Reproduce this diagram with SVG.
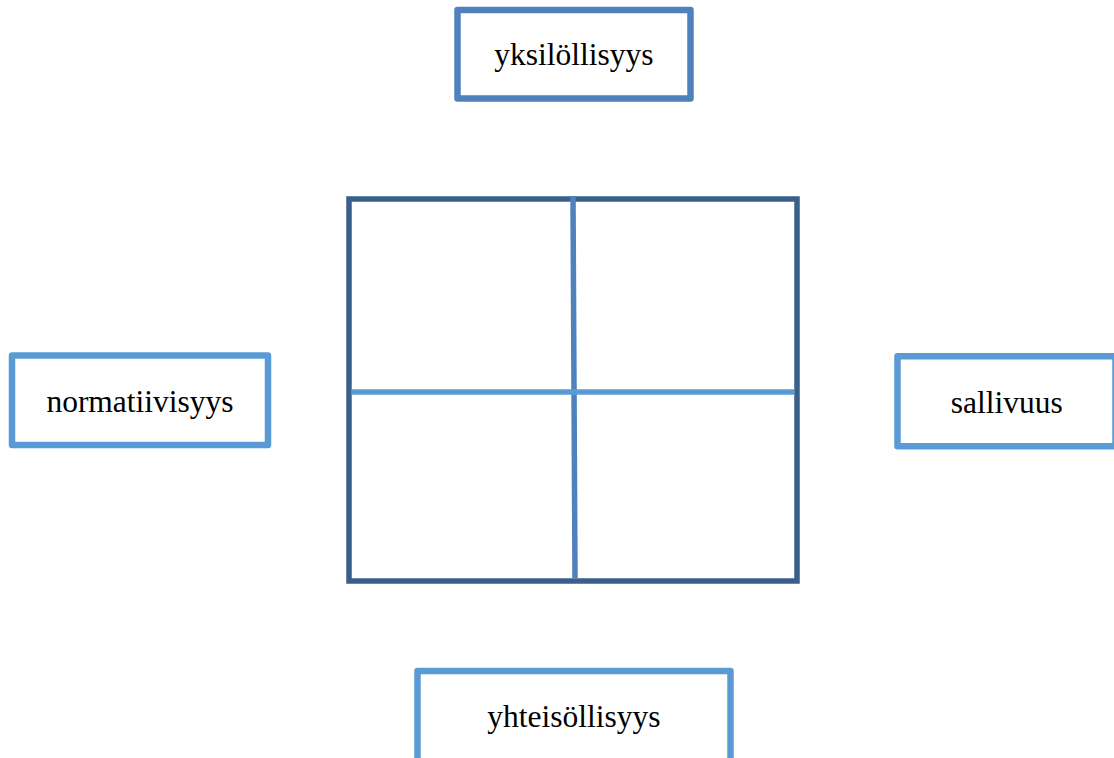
<svg xmlns="http://www.w3.org/2000/svg" width="1114" height="758" viewBox="0 0 1114 758">
<style>
.box{fill:#ffffff;stroke-width:6.5;stroke-linejoin:round}
.a1{stroke:#4f81bd}
.a5{stroke:#5b9bd5}
.lbl{font-family:"Liberation Serif","Times New Roman",serif;font-size:31.5px;fill:#000000;text-anchor:middle}
</style>
<rect width="1114" height="758" fill="#ffffff"/>
<g id="quadrant">
<rect x="349" y="199" width="448" height="382" fill="#ffffff" stroke="#3a5f8b" stroke-width="5.5"/>
</g>
<g id="connectors" fill="none" stroke-width="5.5">
<line x1="573" y1="196" x2="575" y2="578" stroke="#4f81bd"/>
<line x1="351.5" y1="392" x2="794" y2="392" stroke="#5b9bd5"/>
</g>
<g id="yksilollisyys">
<rect class="box a1" x="457.5" y="10" width="233" height="88.5"/>
<text class="lbl" x="574" y="65">yksilöllisyys</text>
</g>
<g id="normatiivisyys">
<rect class="box a5" x="12" y="355.5" width="256" height="89.5"/>
<text class="lbl" x="140" y="412">normatiivisyys</text>
</g>
<g id="sallivuus">
<rect class="box a5" x="897.5" y="356.3" width="218" height="90"/>
<text class="lbl" x="1006.7" y="413">sallivuus</text>
</g>
<g id="yhteisollisyys">
<rect class="box a5" x="417.5" y="671" width="313" height="100"/>
<text class="lbl" x="574" y="727">yhteisöllisyys</text>
</g>
</svg>
